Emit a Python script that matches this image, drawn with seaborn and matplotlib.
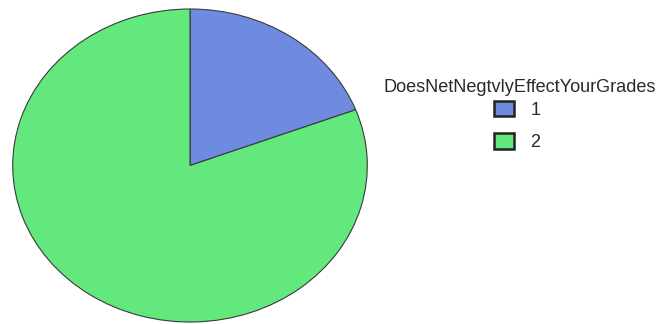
import matplotlib
matplotlib.use("Agg")
import matplotlib.pyplot as plt
import seaborn as sns
from matplotlib.patches import Patch

# Responses to "DoesNetNegtvlyEffectYourGrades" (share of respondents, %)
categories = ["1", "2"]
shares = [19.2, 80.8]
legend_title = "DoesNetNegtvlyEffectYourGrades"

sns.set_theme(style="white")
plt.rcParams["font.family"] = ["Liberation Sans", "DejaVu Sans"]

palette = sns.color_palette(["#6F8BE0", "#62E87D"])
text_color = "#2a2a2a"
fs = 13.1

fig = plt.figure(figsize=(6.62, 3.24), dpi=100)
W, H = 662, 324
# elliptical pie region
left, right, top, bottom = 12.7, 367.3, 9.0, 322.0
ax = fig.add_axes([left / W, 1 - bottom / H, (right - left) / W, (bottom - top) / H])

ax.pie(shares, colors=palette, startangle=90, counterclock=False, radius=1.0,
       wedgeprops=dict(edgecolor="#3a3a3a", linewidth=0.8), frame=False)
ax.set_aspect("auto")
ax.set_xlim(-1, 1)
ax.set_ylim(-1, 1)
ax.axis("off")

# legend title and entries
fig.text(520 / W, 1 - 87 / H, legend_title, ha="center", va="center",
         fontsize=fs, color=text_color)

handles = [Patch(facecolor=c, edgecolor="#222222", linewidth=1.8) for c in palette]
leg = fig.legend(handles, categories, loc="center",
                 bbox_to_anchor=(517 / W, 1 - 126 / H), frameon=False,
                 fontsize=fs, borderpad=0, borderaxespad=0,
                 handlelength=1.1, handleheight=0.95, handletextpad=0.9,
                 labelspacing=0.78)
for t in leg.get_texts():
    t.set_color(text_color)

fig.savefig("out.png", dpi=100)
